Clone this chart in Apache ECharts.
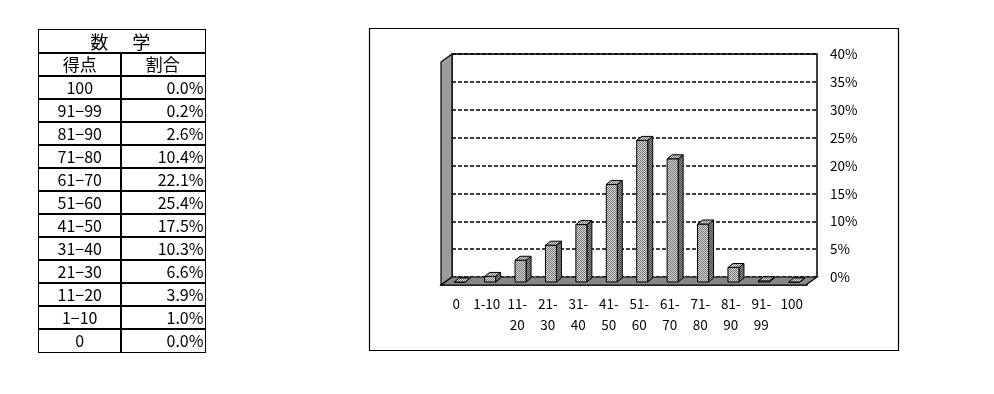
<!DOCTYPE html>
<html><head><meta charset="utf-8">
<script src="https://cdn.jsdelivr.net/npm/echarts@6/dist/echarts.min.js"></script>
<style>
html,body{margin:0;padding:0;background:#fff;}
#chart{position:absolute;left:0;top:0;width:994px;height:394px;}
#tbl{position:absolute;left:0;top:0;font-family:"Noto Sans CJK JP","Liberation Sans",sans-serif;color:#000;}
.c{position:absolute;box-sizing:border-box;font-size:16px;line-height:22px;height:25px;border:1.5px solid #000;}
</style>
</head><body>
<div id="chart"></div>
<div id="tbl"></div>
<script>
// ---- data ----
const tableTitle = '数　学';
const colHeaders = ['得点', '割合'];
const categories = ['0', '1-10', '11-20', '21-30', '31-40', '41-50', '51-60', '61-70', '71-80', '81-90', '91-99', '100'];
const axisLabels = ['0', '1-10', '11-\n20', '21-\n30', '31-\n40', '41-\n50', '51-\n60', '61-\n70', '71-\n80', '81-\n90', '91-\n99', '100'];
const tableLabels = ['100', '91−99', '81−90', '71−80', '61−70', '51−60', '41−50', '31−40', '21−30', '11−20', '1−10', '0'];
const values = [0.0, 1.0, 3.9, 6.6, 10.3, 17.5, 25.4, 22.1, 10.4, 2.6, 0.2, 0.0];
const yTicks = [0, 5, 10, 15, 20, 25, 30, 35, 40];

// ---- table ----
(function(){
  const t = document.getElementById('tbl');
  const L = 38, M = 120, R = 204, T = 29, H = 23;
  function cell(x, y, w, txt, align, extra){
    const d = document.createElement('div');
    d.className = 'c';
    d.style.left = x + 'px'; d.style.top = y + 'px'; d.style.width = w + 'px';
    d.style.textAlign = align;
    if (extra) Object.assign(d.style, extra);
    d.textContent = txt;
    t.appendChild(d);
  }
  cell(L, T, R - L + 1.5, tableTitle, 'center', {fontSize:'18px', letterSpacing:'3px'});
  cell(L, T + H, M - L + 1.5, colHeaders[0], 'center', {fontSize:'17px'});
  cell(M, T + H, R - M + 1.5, colHeaders[1], 'center', {fontSize:'17px'});
  const rev = values.slice().reverse();
  for (let i = 0; i < tableLabels.length; i++) {
    const y = T + H * (i + 2);
    cell(L, y, M - L + 1.5, tableLabels[i], 'center');
    cell(M, y, R - M + 1.5, rev[i].toFixed(1) + '%', 'right', {paddingRight:'1px'});
  }
})();

// ---- patterns ----
function makePattern(c1, c2){
  const cv = document.createElement('canvas');
  cv.width = 4; cv.height = 4;
  const g = cv.getContext('2d');
  g.fillStyle = c1; g.fillRect(0,0,4,4);
  g.fillStyle = c2;
  g.fillRect(0,0,1,1); g.fillRect(2,0,1,1); g.fillRect(1,1,1,1); g.fillRect(3,1,1,1);
  g.fillRect(0,2,1,1); g.fillRect(2,2,1,1); g.fillRect(1,3,1,1); g.fillRect(3,3,1,1);
  return {image: cv, repeat: 'repeat'};
}
const frontFill = makePattern('#d4d4d4', '#7a7a7a');
const sideFill = makePattern('#8c8c8c', '#4a4a4a');

// ---- geometry of the 3D box ----
const BW = {left: 452, top: 54, width: 365, height: 223}; // back wall
const DX = -11, DY = 8;  // front offset

const chart = echarts.init(document.getElementById('chart'));
const bx0 = BW.left, bx1 = BW.left + BW.width, by0 = BW.top, by1 = BW.top + BW.height;

chart.setOption({
  animation: false,
  textStyle: {fontFamily: '"Noto Sans CJK JP","Liberation Sans",sans-serif'},
  grid: [
    {left: BW.left, top: BW.top, width: BW.width, height: BW.height},
    {left: BW.left + DX, top: BW.top + DY, width: BW.width + 1, height: BW.height}
  ],
  xAxis: [
    {type: 'category', gridIndex: 0, data: categories, boundaryGap: true,
     axisLine: {show: false}, axisTick: {show: false}, axisLabel: {show: false}},
    {type: 'category', gridIndex: 1, data: axisLabels, boundaryGap: true,
     axisLine: {show: true, lineStyle: {color: '#000', width: 1.5}},
     axisTick: {show: true, inside: true, length: 3, lineStyle: {color: '#000'}},
     axisLabel: {color: '#000', fontSize: 13.5, margin: 8, lineHeight: 21, interval: 0}}
  ],
  yAxis: [
    {type: 'value', gridIndex: 0, position: 'right', min: 0, max: 40, interval: 5,
     axisLine: {show: false}, axisTick: {show: false},
     axisLabel: {color: '#000', fontSize: 13.5, margin: 13, formatter: '{value}%'},
     splitLine: {show: true, lineStyle: {color: '#000', type: [4, 2], width: 1.5}}},
    {type: 'value', gridIndex: 1, min: 0, max: 40, show: false}
  ],
  graphic: [
    {type: 'rect', shape: {x: 369.5, y: 28.5, width: 529, height: 322}, style: {fill: 'none', stroke: '#000', lineWidth: 1.2}, z: 0},
    // back wall outline
    {type: 'polyline', shape: {points: [[bx0, by1], [bx0, by0], [bx1, by0], [bx1, by1]]}, style: {fill: 'none', stroke: '#000', lineWidth: 1.5}, z: 1},
    // left wall
    {type: 'polygon', shape: {points: [[bx0, by0], [bx0, by1], [bx0 + DX, by1 + DY], [bx0 + DX, by0 + DY]]}, style: {fill: '#9c9c9c', stroke: '#000', lineWidth: 1.2}, z: 1},
    // floor
    {type: 'polygon', shape: {points: [[bx0, by1], [bx1, by1], [bx1 + DX, by1 + DY], [bx0 + DX, by1 + DY]]}, style: {fill: '#868686', stroke: '#000', lineWidth: 1.2}, z: 1}
  ],
  series: [{
    type: 'custom', xAxisIndex: 0, yAxisIndex: 0, z: 5,
    data: categories.map((c, i) => [i, values[i]]),
    renderItem: function(params, api){
      const i = api.value(0), v = api.value(1);
      const p = api.coord([i, v]), p0 = api.coord([i, 0]);
      const w = 11, d = 5, dh = 4, oy = 5;
      const cx = p[0] - 7.5;
      const x0 = cx - w / 2, x1 = cx + w / 2;
      const yt = p[1] + oy, yb = p0[1] + oy;
      return {type: 'group', children: [
        {type: 'polygon', shape: {points: [[x1, yt], [x1 + d, yt - dh], [x1 + d, yb - dh], [x1, yb]]}, style: {fill: sideFill, stroke: '#000', lineWidth: 1}},
        {type: 'rect', shape: {x: x0, y: yt, width: w, height: yb - yt}, style: {fill: frontFill, stroke: '#000', lineWidth: 1}},
        {type: 'polygon', shape: {points: [[x0, yt], [x0 + d, yt - dh], [x1 + d, yt - dh], [x1, yt]]}, style: {fill: frontFill, stroke: '#000', lineWidth: 1}}
      ]};
    }
  }]
});
</script>
</body></html>
